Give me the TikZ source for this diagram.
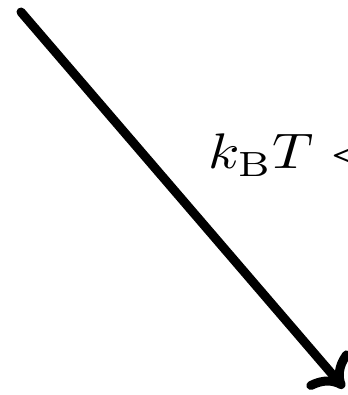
\documentclass[tikz,border=0pt]{standalone}
\usetikzlibrary{arrows.meta}
\begin{document}
\begin{tikzpicture}[x=1pt,y=1pt,
  bigarrow/.style={line width=9pt, line cap=round, -{To[round,length=28pt,width=56pt]}},
  lbl/.style={anchor=base west, inner sep=0pt, xscale=5.7, yscale=5.0}]
\useasboundingbox (0,0) rectangle (347,395);
\coordinate (s) at (21,383);
\coordinate (e) at (344,7);
\draw[bigarrow] (s) -- (e);
\node[lbl] (t) at (207,226) {$k_{\mathrm{B}}T<$};
\end{tikzpicture}
\end{document}
